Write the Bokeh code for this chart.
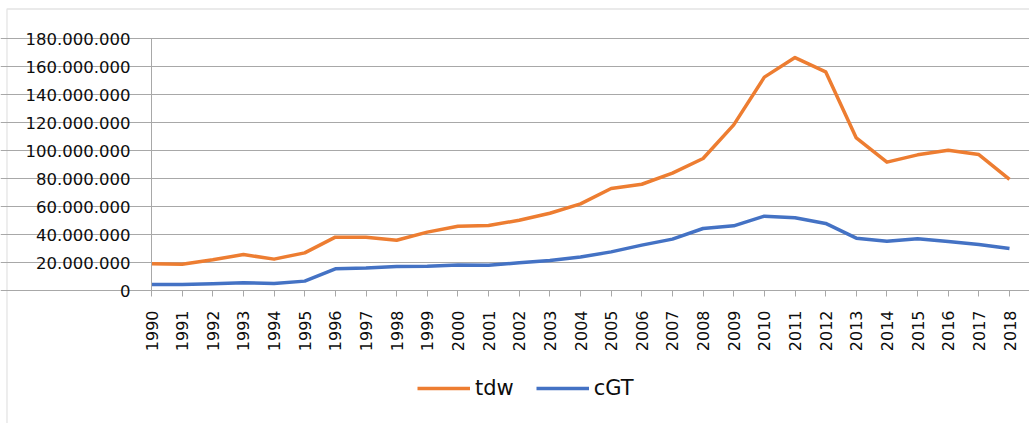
import math
from bokeh.plotting import figure
from bokeh.models import Range1d, FixedTicker, Legend, LegendItem, BoxAnnotation
from bokeh.embed import file_html
from bokeh.resources import INLINE

years = list(range(1990, 2019))
tdw = [19100000, 18800000, 21900000, 25700000, 22400000, 26900000, 38100000,
       38100000, 35900000, 41700000, 45900000, 46400000, 50200000, 55200000,
       61900000, 72900000, 75900000, 83800000, 94300000, 118300000, 152400000,
       166400000, 156200000, 109000000, 91700000, 96900000, 100200000, 97100000,
       79300000]
cgt = [4300000, 4300000, 4800000, 5500000, 5000000, 6700000, 15500000,
       16000000, 17100000, 17400000, 18300000, 18100000, 19800000, 21400000,
       24000000, 27600000, 32400000, 36700000, 44300000, 46200000, 53100000,
       51900000, 47900000, 37400000, 35200000, 36900000, 35000000, 32900000,
       30000000]
y_ticks = [0, 20000000, 40000000, 60000000, 80000000, 100000000, 120000000,
           140000000, 160000000, 180000000]
y_tick_labels = ["0", "20.000.000", "40.000.000", "60.000.000", "80.000.000",
                 "100.000.000", "120.000.000", "140.000.000", "160.000.000",
                 "180.000.000"]

GRID = "#a8a8a8"
BORDER = "#a6a6a6"
TEXT = "#0d0d0d"
FONT = "DejaVu Sans"

# Layout (page pixels): plot area from x=152 (1990) to 1010 (2018),
# y=291 (0) to 39 (180M). Canvas origin on the page:
OX, OY = 1, 1
W, H = 1029, 423
PX_PER_YEAR = (1010 - 152) / 28.0
PX_PER_UNIT = (291 - 39) / 180000000.0


def x_of(px):
    return 1990 + (px - 152) / PX_PER_YEAR


def y_of(py):
    return (291 - py) / PX_PER_UNIT


p = figure(width=W, height=H, output_backend="svg", toolbar_location=None,
           x_range=Range1d(x_of(OX), x_of(OX + W)),
           y_range=Range1d(y_of(OY + H), y_of(OY)),
           min_border_left=0, min_border_right=0, min_border_top=0,
           min_border_bottom=0)
p.outline_line_color = None
p.background_fill_color = "white"
p.border_fill_color = "white"

# outer chart border (only left and top edges visible)
p.add_layout(BoxAnnotation(left=x_of(7.5), right=x_of(OX + W + 50),
                           top=y_of(9.5), bottom=y_of(OY + H + 50),
                           fill_alpha=0, line_color=BORDER, line_width=1.3,
                           level="underlay"))

r1 = p.line(years, tdw, line_color="#ED7D31", line_width=3.5, line_join="round")
r2 = p.line(years, cgt, line_color="#4472C4", line_width=3.5, line_join="round")

# X axis
p.xaxis.fixed_location = 0
p.xaxis.bounds = (1990, 2018)
p.xaxis.ticker = FixedTicker(ticks=years)
p.xaxis.major_label_overrides = {y: str(y) for y in years}
p.xaxis.major_label_orientation = math.pi / 2
p.xaxis.minor_tick_line_color = None
p.xaxis.major_tick_in = 0
p.xaxis.major_tick_out = 6
p.xaxis.axis_line_color = GRID
p.xaxis.major_tick_line_color = GRID
p.xaxis.major_label_text_font = FONT
p.xaxis.major_label_text_font_size = "16px"
p.xaxis.major_label_text_color = TEXT
p.xaxis.major_label_standoff = 14
p.xgrid.grid_line_color = None

# Y axis
p.yaxis.fixed_location = 1990
p.yaxis.bounds = (0, 180000000)
p.yaxis.ticker = FixedTicker(ticks=y_ticks)
p.yaxis.major_label_overrides = dict(zip(y_ticks, y_tick_labels))
p.yaxis.minor_tick_line_color = None
p.yaxis.major_tick_in = 0
p.yaxis.major_tick_out = 6
p.yaxis.axis_line_color = GRID
p.yaxis.major_tick_line_color = GRID
p.yaxis.major_label_text_font = FONT
p.yaxis.major_label_text_font_size = "16.5px"
p.yaxis.major_label_text_color = TEXT
p.yaxis.major_label_standoff = 15
p.ygrid.grid_line_color = GRID
p.ygrid.ticker = FixedTicker(ticks=y_ticks)
p.ygrid.bounds = (1990, 2018)

legend = Legend(items=[LegendItem(label="tdw", renderers=[r1]),
                       LegendItem(label="cGT", renderers=[r2])],
                orientation="horizontal",
                location=(418 - OX, (OY + H) - 401))
legend.glyph_width = 53
legend.glyph_height = 24
legend.label_height = 24
legend.label_standoff = 5
legend.spacing = 22
legend.padding = 0
legend.margin = 0
legend.border_line_color = None
legend.background_fill_alpha = 0
legend.label_text_font = FONT
legend.label_text_font_size = "21px"
legend.label_text_color = TEXT
p.add_layout(legend, "center")

open("out.html", "w").write(file_html(p, INLINE))
